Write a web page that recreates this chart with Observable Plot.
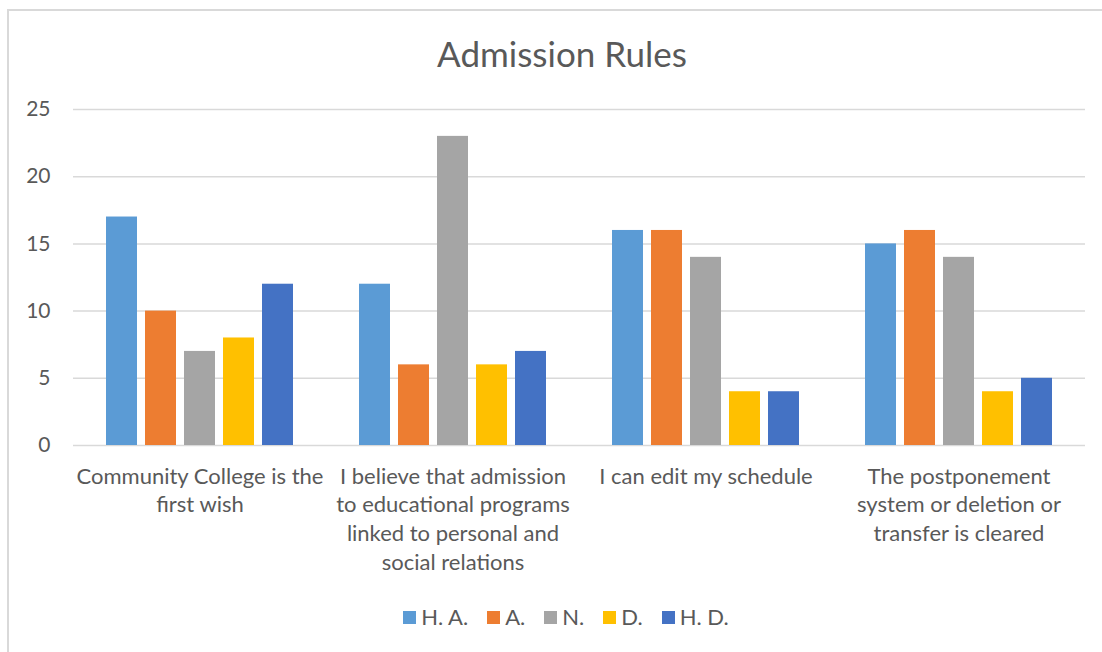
<!DOCTYPE html>
<html>
<head>
<meta charset="utf-8">
<script src="https://cdn.jsdelivr.net/npm/d3@7"></script>
<script src="https://cdn.jsdelivr.net/npm/@observablehq/plot@0.6"></script>
<style>
  html, body { margin: 0; padding: 0; background: #fff; }
  #wrap { position: relative; width: 1102px; height: 652px; overflow: hidden; font-family: Lato, "Open Sans", sans-serif; color: #595959; }
  #border { position: absolute; left: 7px; top: 9px; width: 1200px; height: 700px; border: 2px solid #d9d9d9; box-sizing: border-box; }
  #title { position: absolute; left: 0; width: 1124px; top: 32px; text-align: center; font-size: 35px; line-height: 42px; }
  #chart { position: absolute; left: 0; top: 0; }
  #legend { position: absolute; left: 0; width: 1132px; top: 604px; display: flex; justify-content: center; gap: 19px; font-size: 22px; line-height: 26px; }
  .item { display: flex; align-items: center; }
  .sw { width: 13px; height: 13px; margin-right: 5px; }
</style>
</head>
<body>
<div id="wrap">
  <div id="border"></div>
  <div id="title">Admission Rules</div>
  <div id="chart"></div>
  <div id="legend"></div>
</div>
<script>
const categories = [
  "Community College is the first wish",
  "I believe that admission to educational programs linked to personal and social relations",
  "I can edit my schedule",
  "The postponement system or deletion or transfer is cleared"
];
const categoryLabels = [
  "Community College is the\nfirst wish",
  "I believe that admission\nto educational programs\nlinked to personal and\nsocial relations",
  "I can edit my schedule",
  "The postponement\nsystem or deletion or\ntransfer is cleared"
];
const series = ["H. A.", "A.", "N.", "D.", "H. D."];
const colors = ["#5B9BD5", "#ED7D31", "#A5A5A5", "#FFC000", "#4472C4"];
const valuesHA = [17, 12, 16, 15];
const valuesA  = [10, 6, 16, 16];
const valuesN  = [7, 23, 14, 14];
const valuesD  = [8, 6, 4, 4];
const valuesHD = [12, 7, 4, 5];
const yTicks = [0, 5, 10, 15, 20, 25];

const seriesValues = [valuesHA, valuesA, valuesN, valuesD, valuesHD];
const data = categories.flatMap((c, i) => series.map((s, j) => ({category: c, series: s, value: seriesValues[j][i]})));
const labelOf = new Map(categories.map((c, i) => [c, categoryLabels[i]]));

const chart = Plot.plot({
  width: 1102,
  height: 590,
  marginTop: 109,
  marginBottom: 145,
  marginLeft: 71,
  marginRight: 16,
  style: {fontFamily: "Lato, 'Open Sans', sans-serif", color: "#595959", background: "transparent"},
  fx: {domain: categories, padding: 0, label: null},
  x: {domain: series, paddingInner: 0.2, paddingOuter: 0.83, axis: null},
  y: {domain: [0, 25], label: null},
  color: {domain: series, range: colors},
  marks: [
    Plot.gridY(yTicks, {stroke: "#d9d9d9", strokeOpacity: 1, strokeWidth: 1.5}),
    Plot.barY(data, {fx: "category", x: "series", y: "value", fill: "series"}),
    Plot.axisY(yTicks, {tickSize: 0, tickPadding: 23, fontSize: 21, fill: "#595959", label: null}),
    Plot.axisFx({anchor: "bottom", tickSize: 0, tickPadding: 18, fontSize: 22, lineHeight: 1.3, fill: "#595959", label: null, tickFormat: d => labelOf.get(d)})
  ]
});
document.getElementById("chart").appendChild(chart);

const legend = document.getElementById("legend");
series.forEach((s, i) => {
  const it = document.createElement("div");
  it.className = "item";
  const sw = document.createElement("span");
  sw.className = "sw";
  sw.style.background = colors[i];
  const t = document.createElement("span");
  t.textContent = s;
  it.appendChild(sw); it.appendChild(t);
  legend.appendChild(it);
});
</script>
</body>
</html>
